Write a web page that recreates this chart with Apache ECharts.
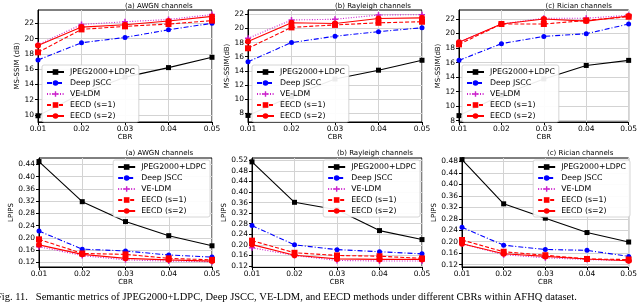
<!DOCTYPE html>
<html><head><meta charset="utf-8">
<script src="https://cdn.jsdelivr.net/npm/echarts@6/dist/echarts.min.js"></script>
<style>html,body{margin:0;padding:0;background:#fff}#c{width:640px;height:302px}</style>
</head><body><div id="c"></div>
<script>
// ---------------- DATA ----------------
const cbr = [0.01, 0.02, 0.03, 0.04, 0.05];
const methods = ['JPEG2000+LDPC', 'Deep JSCC', 'VE-LDM', 'EECD (s=1)', 'EECD (s=2)'];
const panelTitles = ['(a) AWGN channels', '(b) Rayleigh channels', '(c) Rician channels'];
const ssimNames = ['MS-SSIM (dB)', 'MS-SSIM(dB)', 'MS-SSIM(dB)'];
const lpipsName = 'LPIPS';
const xName = 'CBR';
const caption = 'Fig. 11.   Semantic metrics of JPEG2000+LDPC, Deep JSCC, VE-LDM, and EECD methods under different CBRs within AFHQ dataset.';

// rows: JPEG2000+LDPC, Deep JSCC, VE-LDM, EECD (s=1), EECD (s=2)
const ssimAwgn = [
  [9.9, 12.8, 14.95, 16.2, 17.55],
  [17.2, 19.45, 20.15, 21.15, 22.0],
  [19.2, 21.85, 22.2, 22.5, 23.15],
  [18.2, 21.2, 21.6, 21.9, 22.35],
  [19.1, 21.5, 21.8, 22.3, 22.9]
];
const ssimRayleigh = [
  [7.7, 10.4, 12.85, 14.1, 15.5],
  [15.3, 18.0, 18.9, 19.55, 20.1],
  [18.6, 21.2, 21.3, 21.9, 21.95],
  [17.2, 20.15, 20.5, 20.8, 20.95],
  [18.15, 20.8, 20.7, 21.4, 21.5]
];
const ssimRician = [
  [8.7, 11.5, 13.75, 15.6, 16.3],
  [16.3, 18.6, 19.6, 19.97, 21.3],
  [18.8, 21.3, 22.1, 22.1, 22.5],
  [18.5, 21.3, 21.3, 21.8, 22.3],
  [18.8, 21.3, 22.0, 21.7, 22.4]
];
const lpipsAwgn = [
  [0.449, 0.318, 0.253, 0.207, 0.174],
  [0.222, 0.163, 0.157, 0.144, 0.137],
  [0.171, 0.142, 0.128, 0.124, 0.122],
  [0.195, 0.149, 0.146, 0.133, 0.128],
  [0.177, 0.146, 0.133, 0.128, 0.124]
];
const lpipsRayleigh = [
  [0.514, 0.361, 0.333, 0.254, 0.220],
  [0.273, 0.200, 0.182, 0.174, 0.166],
  [0.189, 0.160, 0.141, 0.139, 0.139],
  [0.216, 0.170, 0.160, 0.157, 0.149],
  [0.201, 0.161, 0.147, 0.145, 0.145]
];
const lpipsRician = [
  [0.486, 0.332, 0.282, 0.232, 0.199],
  [0.250, 0.188, 0.173, 0.170, 0.149],
  [0.193, 0.155, 0.144, 0.138, 0.134],
  [0.206, 0.165, 0.153, 0.140, 0.138],
  [0.193, 0.158, 0.149, 0.140, 0.134]
];

const ssimTicksAwgn = [10, 12, 14, 16, 18, 20, 22];
const ssimTicksRayleigh = [8, 10, 12, 14, 16, 18, 20, 22];
const ssimTicksRician = [8, 10, 12, 14, 16, 18, 20, 22];
const lpipsTicksAwgn = [0.12, 0.16, 0.20, 0.24, 0.28, 0.32, 0.36, 0.40, 0.44];
const lpipsTicksRayleigh = [0.12, 0.16, 0.20, 0.24, 0.28, 0.32, 0.36, 0.40, 0.44, 0.48, 0.52];
const lpipsTicksRician = [0.12, 0.16, 0.20, 0.24, 0.28, 0.32, 0.36, 0.40, 0.44, 0.48];

// --------------- LAYOUT / STYLE ---------------
const FONT = 'DejaVu Sans';
const panels = [
  {data: ssimAwgn, ticks: ssimTicksAwgn, name: ssimNames[0], title: panelTitles[0], dec: 0,
   grid: {left: 38, top: 10, width: 174, height: 112}, ext: [9.08, 23.74], nameGap: 16,
   legend: {left: 42, top: 65}},
  {data: ssimRayleigh, ticks: ssimTicksRayleigh, name: ssimNames[1], title: panelTitles[1], dec: 0,
   grid: {left: 248, top: 10, width: 174, height: 112}, ext: [6.77, 22.61], nameGap: 16,
   legend: {left: 252, top: 65}},
  {data: ssimRician, ticks: ssimTicksRician, name: ssimNames[2], title: panelTitles[2], dec: 0,
   grid: {left: 459, top: 10, width: 173, height: 112}, ext: [7.82, 23.23], nameGap: 16,
   legend: {left: 462, top: 65}},
  {data: lpipsAwgn, ticks: lpipsTicksAwgn, name: lpipsName, title: panelTitles[0], dec: 2,
   grid: {left: 39, top: 158, width: 173, height: 109}, ext: [0.1047, 0.4606], nameGap: 20,
   legend: {right: 430, top: 160}},
  {data: lpipsRayleigh, ticks: lpipsTicksRayleigh, name: lpipsName, title: panelTitles[1], dec: 2,
   grid: {left: 252, top: 158, width: 170, height: 109}, ext: [0.1163, 0.5286], nameGap: 22,
   legend: {right: 220, top: 160}},
  {data: lpipsRician, ticks: lpipsTicksRician, name: lpipsName, title: panelTitles[2], dec: 2,
   grid: {left: 462, top: 158, width: 170, height: 109}, ext: [0.112, 0.4916], nameGap: 22,
   legend: {right: 10, top: 160}}
];

const plusPath = 'path://M3,0h2v3h3v2h-3v3h-2v-3h-3v-2h3z';
const styles = [
  {color: '#000000', symbol: 'rect', size: 5, type: 'solid'},
  {color: '#0000ff', symbol: 'circle', size: 5, type: [5, 2, 1, 2]},
  {color: '#cc22cc', symbol: plusPath, size: 6, type: [1, 1.6]},
  {color: '#ff0000', symbol: 'rect', size: 6, type: [4, 2]},
  {color: '#ff0000', symbol: 'circle', size: 6, type: 'solid'}
];

const grids = [], xAxes = [], yAxes = [], series = [], legends = [], graphics = [];
panels.forEach((p, i) => {
  grids.push(Object.assign({show: true, borderColor: '#000', borderWidth: 1, backgroundColor: '#fff'}, p.grid));
  xAxes.push({
    type: 'value', gridIndex: i, min: cbr[0], max: cbr[cbr.length - 1],
    name: xName, nameLocation: 'middle', nameGap: 11,
    nameTextStyle: {fontFamily: FONT, fontSize: 7, color: '#000'},
    axisLine: {show: true, onZero: false, lineStyle: {color: '#000', width: 1}},
    axisTick: {show: true, inside: false, length: 3, customValues: cbr, lineStyle: {color: '#000'}},
    axisLabel: {show: true, customValues: cbr, margin: 3, fontFamily: FONT, fontSize: 7.5, color: '#000',
      formatter: v => v.toFixed(2)},
    splitLine: {show: true, lineStyle: {color: '#d3d3d3', width: 1}}
  });
  yAxes.push({
    type: 'value', gridIndex: i, min: p.ext[0], max: p.ext[1],
    name: p.name, nameLocation: 'middle', nameGap: p.nameGap, nameRotate: 90,
    nameTextStyle: {fontFamily: FONT, fontSize: 7, color: '#000'},
    axisLine: {show: true, onZero: false, lineStyle: {color: '#000', width: 1}},
    axisTick: {show: true, inside: false, length: 3, customValues: p.ticks, lineStyle: {color: '#000'}},
    axisLabel: {show: true, customValues: p.ticks, margin: 4, fontFamily: FONT, fontSize: 7.5, color: '#000',
      formatter: v => v.toFixed(p.dec)},
    splitLine: {show: true, lineStyle: {color: '#d3d3d3', width: 1}}
  });
  p.data.forEach((row, k) => {
    const s = styles[k];
    series.push({
      type: 'line', name: methods[k], xAxisIndex: i, yAxisIndex: i,
      data: cbr.map((x, j) => [x, row[j]]),
      symbol: s.symbol, symbolSize: s.size, showAllSymbol: true, clip: false,
      itemStyle: {color: s.color},
      lineStyle: {color: s.color, width: 1.1, type: s.type},
      animation: false, z: 3 + k
    });
  });
  legends.push(Object.assign({
    data: methods, orient: 'vertical', z: 20,
    backgroundColor: 'rgba(255,255,255,0.92)', borderColor: '#cccccc', borderWidth: 0.8, borderRadius: 2,
    padding: [3, 4, 2, 4], itemGap: 3, itemWidth: 17, itemHeight: 7,
    textStyle: {fontFamily: FONT, fontSize: 7.8, color: '#000', padding: [0, 0, 0, 1]},
    selectedMode: false
  }, p.legend));
  const cx = p.grid.left + p.grid.width / 2;
  const ty = i < 3 ? 3 : 150;
  graphics.push({type: 'text', left: cx, top: ty, style: {text: p.title, fontFamily: FONT, fontSize: 7, fill: '#000',
    align: 'center', verticalAlign: 'middle', x: 0, y: 0}, z: 30});
});
graphics.push({type: 'text', x: -4, y: 297, z: 30,
  style: {text: caption, fontFamily: 'Liberation Serif', fontSize: 10.5, fill: '#000', verticalAlign: 'middle'}});

const chart = echarts.init(document.getElementById('c'), null, {renderer: 'canvas'});
chart.setOption({
  animation: false, backgroundColor: '#fff',
  grid: grids, xAxis: xAxes, yAxis: yAxes, series: series, legend: legends, graphic: graphics
});
</script></body></html>
